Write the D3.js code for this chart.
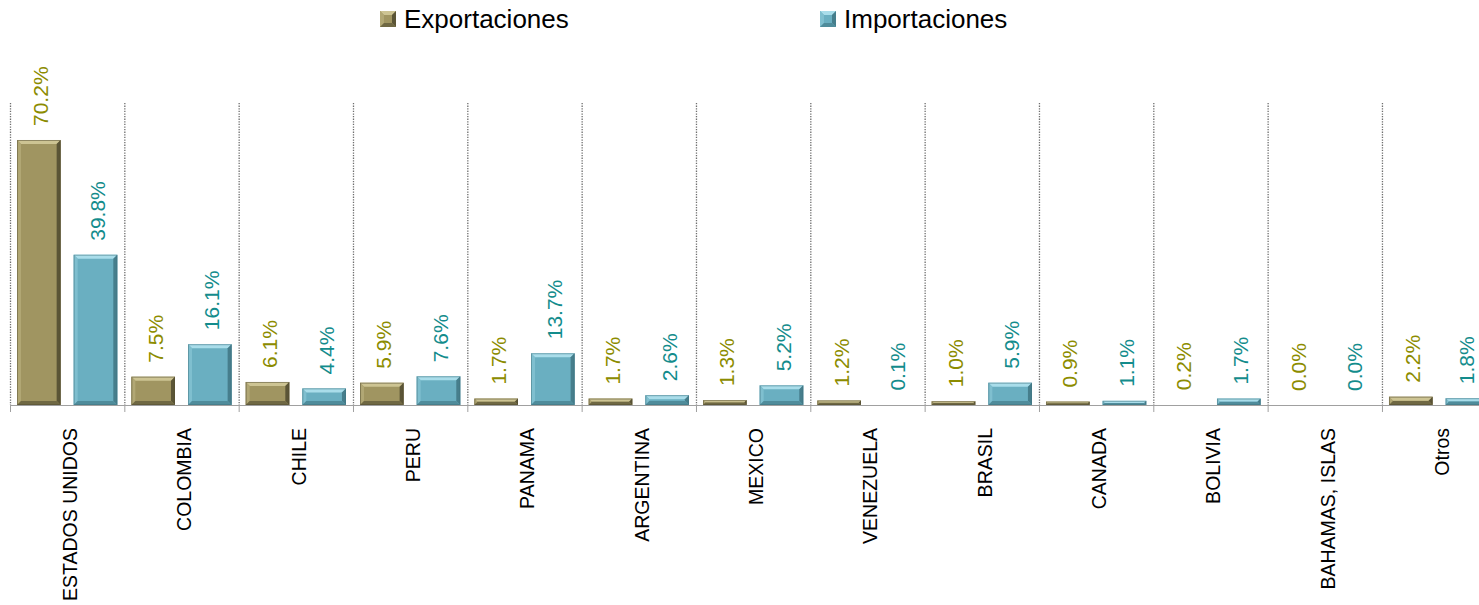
<!DOCTYPE html>
<html><head><meta charset="utf-8">
<script src="https://cdn.jsdelivr.net/npm/d3@7/dist/d3.min.js"></script>
<style>body{margin:0;background:#fff;} svg{display:block;}</style>
</head><body>
<svg id="c" width="1479" height="605"></svg>
<script>
const categories = ["ESTADOS UNIDOS","COLOMBIA","CHILE","PERU","PANAMA","ARGENTINA","MEXICO","VENEZUELA","BRASIL","CANADA","BOLIVIA","BAHAMAS, ISLAS","Otros"];
const exportaciones = [70.2,7.5,6.1,5.9,1.7,1.7,1.3,1.2,1.0,0.9,0.2,0.0,2.2];
const importaciones = [39.8,16.1,4.4,7.6,13.7,2.6,5.2,0.1,5.9,1.1,1.7,0.0,1.8];
const seriesNames = ["Exportaciones","Importaciones"];

const svg = d3.select("#c");
const font = "'Liberation Sans', Arial, sans-serif";
const W = 1479;
const step = 114.33;
const x0 = d3.scaleBand().domain(categories).range([10, 10 + step*categories.length]).padding(0);
const x1 = d3.scaleBand().domain(["exp","imp"]).range([0, x0.bandwidth()]).paddingInner(0.23).paddingOuter(0.124);
const y = d3.scaleLinear().domain([0, 80]).range([405, 103]);

const styles = {
  exp: {base:"#A09561", top:"#CDC493", left:"#B1A774", right:"#5B5536", bottom:"#6F6843", label:"#8C8C00"},
  imp: {base:"#6AAFC1", top:"#A9DDEA", left:"#7FBFCF", right:"#467E8C", bottom:"#4F8C9B", label:"#138C8C"}
};

// vertical dotted gridlines
const bounds = categories.map(c => x0(c));
svg.append("g").selectAll("line").data(bounds).join("line")
  .attr("x1", d => d + 0.5).attr("x2", d => d + 0.5)
  .attr("y1", y(80)).attr("y2", y(0))
  .attr("stroke", "#6e6e6e").attr("stroke-width", 1.3).attr("stroke-dasharray", "1.3,1.3");

// bars
const data = [];
categories.forEach((c, i) => {
  data.push({cat:c, key:"exp", v:exportaciones[i]});
  data.push({cat:c, key:"imp", v:importaciones[i]});
});
const g = svg.append("g");
data.forEach(d => {
  const bx = x0(d.cat) + x1(d.key), bw = x1.bandwidth();
  const by = y(d.v), bh = y(0) - y(d.v);
  if (bh < 1) return;
  const s = styles[d.key];
  const b = Math.min(4, bh/2);
  const grp = g.append("g");
  grp.append("rect").attr("x", bx).attr("y", by).attr("width", bw).attr("height", bh).attr("fill", s.base);
  const L = bx, R = bx + bw, T = by, B = by + bh;
  const poly = (pts, fill) => grp.append("polygon").attr("points", pts.map(p => p.join(",")).join(" ")).attr("fill", fill);
  poly([[L,T],[R,T],[R-b,T+b],[L+b,T+b]], s.top);
  poly([[L,T],[L+b,T+b],[L+b,B-b],[L,B]], s.left);
  poly([[R,T],[R,B],[R-b,B-b],[R-b,T+b]], s.right);
  poly([[L,B],[L+b,B-b],[R-b,B-b],[R,B]], s.bottom);
  grp.append("rect").attr("x", bx+0.5).attr("y", by+0.5).attr("width", bw-1).attr("height", Math.max(0, bh-1))
    .attr("fill", "none").attr("stroke", d3.color(s.right).darker(0.3)).attr("stroke-opacity", 0.5);
});

// value labels
svg.append("g").selectAll("text").data(data).join("text")
  .attr("transform", d => {
    const cx = Math.min(x0(d.cat) + x1(d.key) + x1.bandwidth()/2 + 2, W - 12);
    return `translate(${cx},${y(d.v) - 14}) rotate(-90)`;
  })
  .attr("dy", "0.35em")
  .attr("text-anchor", "start")
  .attr("font-family", font).attr("font-size", 21)
  .attr("fill", d => styles[d.key].label)
  .text(d => d.v.toFixed(1) + "%");

// axis
svg.append("line").attr("x1", 10).attr("x2", W).attr("y1", y(0)+0.5).attr("y2", y(0)+0.5)
  .attr("stroke", "#a0a0a0").attr("stroke-width", 1.2);
svg.append("g").selectAll("line").data(bounds).join("line")
  .attr("x1", d => d + 0.5).attr("x2", d => d + 0.5)
  .attr("y1", y(0)).attr("y2", y(0) + 7)
  .attr("stroke", "#a0a0a0");

// category labels
svg.append("g").selectAll("text").data(categories).join("text")
  .attr("transform", d => `translate(${x0(d) + x0.bandwidth()/2 + 3},428) rotate(-90)`)
  .attr("dy", "0.35em")
  .attr("text-anchor", "end")
  .attr("font-family", font).attr("font-size", 19.5)
  .attr("fill", "#000")
  .text(d => d);

// legend
const legendX = [380, 820];
const lg = svg.append("g").selectAll("g").data(seriesNames).join("g")
  .attr("transform", (d, i) => `translate(${legendX[i]},11)`);
lg.each(function(d, i) {
  const s = styles[i === 0 ? "exp" : "imp"];
  const gg = d3.select(this);
  const w = 16, b = 4;
  gg.append("rect").attr("width", w).attr("height", w).attr("fill", s.base);
  const P = (pts, f) => gg.append("polygon").attr("points", pts.map(p=>p.join(",")).join(" ")).attr("fill", f);
  P([[0,0],[w,0],[w-b,b],[b,b]], s.top);
  P([[0,0],[b,b],[b,w-b],[0,w]], s.left);
  P([[w,0],[w,w],[w-b,w-b],[w-b,b]], s.right);
  P([[0,w],[b,w-b],[w-b,w-b],[w,w]], s.bottom);
  gg.append("text").attr("x", 24).attr("y", 8).attr("dy", "0.35em")
    .attr("font-family", font).attr("font-size", 26).attr("fill", "#000").text(d);
});
</script>
</body></html>
